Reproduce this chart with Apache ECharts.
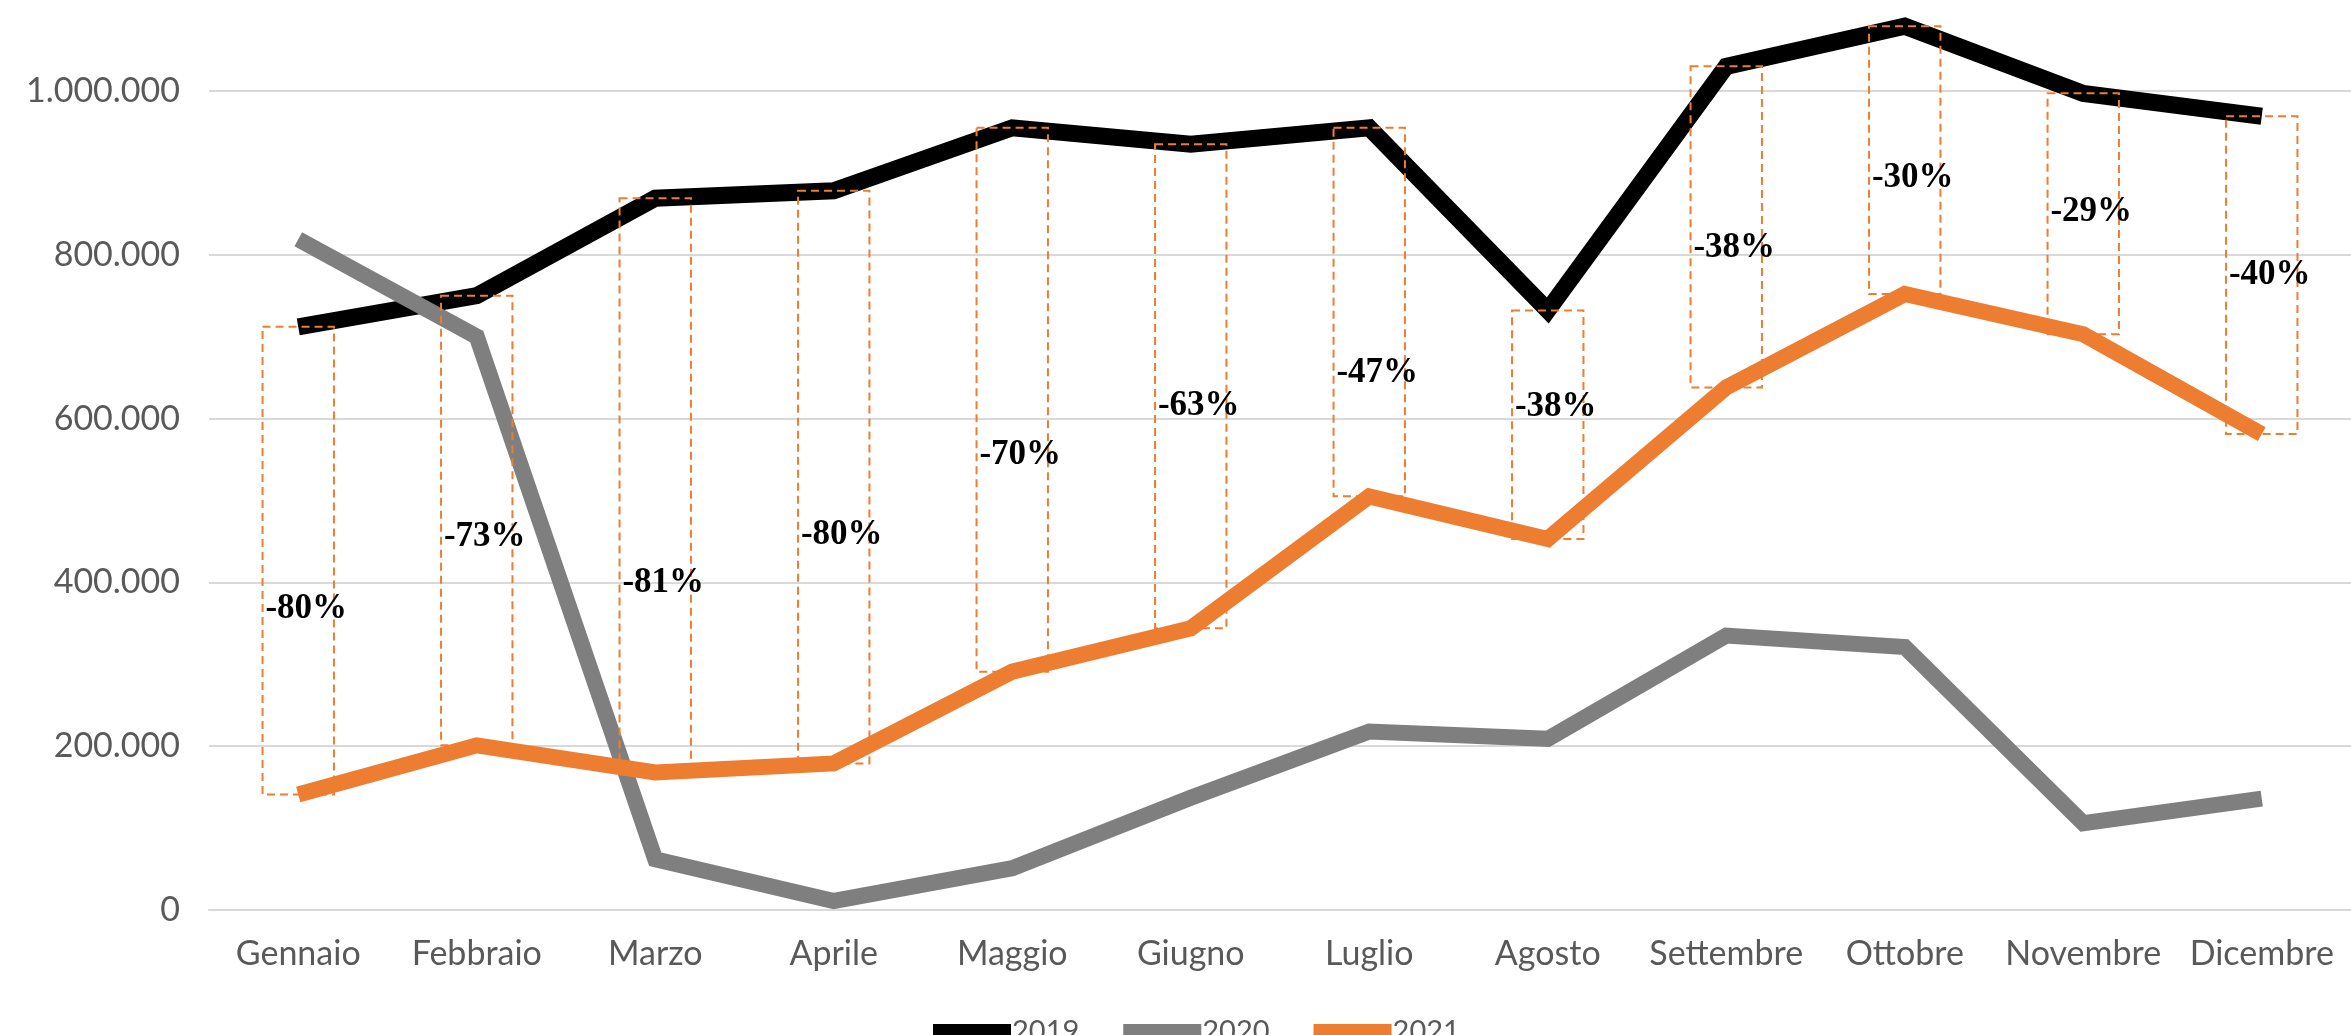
<!DOCTYPE html>
<html><head><meta charset="utf-8">
<script src="https://cdn.jsdelivr.net/npm/echarts@6/dist/echarts.min.js"></script>
<style>html,body{margin:0;padding:0;background:#fff}#c{width:2351px;height:1035px}</style>
</head><body><div id="c"></div>
<script>
const months = ['Gennaio','Febbraio','Marzo','Aprile','Maggio','Giugno','Luglio','Agosto','Settembre','Ottobre','Novembre','Dicembre'];
const s2019 = [712000, 750000, 869000, 878000, 955000, 935000, 955000, 732000, 1030000, 1079000, 997000, 969000];
const s2020 = [819000, 700000, 62000, 11000, 51000, 137000, 218000, 209000, 335000, 321000, 106000, 136000];
const s2021 = [141000, 201000, 168000, 179000, 291000, 344000, 505000, 453000, 638000, 752000, 703000, 581000];
const pctLabels = ['-80%','-73%','-81%','-80%','-70%','-63%','-47%','-38%','-38%','-30%','-29%','-40%'];
const pctLabelAt = [368000, 456000, 399000, 458000, 555000, 615000, 656000, 614000, 808000, 894000, 852000, 775000];
const seriesNames = ['2019','2020','2021'];

const fmt = v => String(v).replace(/\B(?=(\d{3})+(?!\d))/g, '.');
const axisFont = 'Lato';
const chart = echarts.init(document.getElementById('c'));
chart.setOption({
  animation: false,
  backgroundColor: '#fff',
  grid: { left: 209, right: -10, top: 9, bottom: 125 },
  legend: {
    data: seriesNames, top: 1012, left: 928, itemWidth: 78, itemHeight: 15, itemGap: 44, icon: 'rect',
    textStyle: { fontFamily: axisFont, fontSize: 29, color: '#595959', padding: [0,0,0,-4] }
  },
  xAxis: {
    type: 'category', data: months, boundaryGap: true,
    axisLine: { show: true, lineStyle: { color: '#D9D9D9', width: 2 } },
    axisTick: { show: false },
    axisLabel: { interval: 0, fontFamily: axisFont, fontSize: 34, color: '#595959', margin: 27 }
  },
  yAxis: {
    type: 'value', min: 0, max: 1100000, interval: 200000,
    axisLine: { show: false }, axisTick: { show: false },
    splitLine: { showMaxLine: false, lineStyle: { color: '#D9D9D9', width: 2 } },
    axisLabel: { showMaxLabel: false, fontFamily: axisFont, fontSize: 34, color: '#595959', margin: 29, formatter: fmt }
  },
  series: [
    { name: '2019', type: 'line', data: s2019, symbol: 'none', z: 2, color: '#000000',
      lineStyle: { width: 17, color: '#000000', join: 'miter', cap: 'butt' } },
    { name: '2020', type: 'line', data: s2020, symbol: 'none', z: 2, color: '#7F7F7F',
      lineStyle: { width: 16, color: '#7F7F7F', join: 'miter', cap: 'butt' } },
    { name: '2021', type: 'line', data: s2021, symbol: 'none', z: 2, color: '#ED7D31',
      lineStyle: { width: 16, color: '#ED7D31', join: 'miter', cap: 'butt' } },
    { name: 'bars', type: 'custom', z: 3, silent: true,
      data: months.map((m, i) => [i, s2019[i], s2021[i]]),
      encode: { x: 0, y: [1, 2] },
      renderItem: (params, api) => {
        const i = api.value(0);
        const a = api.coord([i, api.value(1)]);
        const b = api.coord([i, api.value(2)]);
        const w = api.size([1, 0])[0] * 0.4;
        return { type: 'rect', shape: { x: a[0] - w / 2, y: a[1], width: w, height: b[1] - a[1] },
          style: { fill: 'none', stroke: '#ED7D31', lineWidth: 2, lineDash: [8, 5] } };
      }
    },
    { name: 'labels', type: 'custom', z: 4, silent: true,
      data: months.map((m, i) => [i, pctLabelAt[i]]),
      encode: { x: 0, y: 1 },
      renderItem: (params, api) => {
        const i = params.dataIndex;
        const p = api.coord([api.value(0), api.value(1)]);
        return { type: 'text', x: p[0] + 8, y: p[1],
          style: { text: pctLabels[i], fontFamily: 'Liberation Serif', fontWeight: 'bold', fontSize: 35,
            fill: '#000', align: 'center', verticalAlign: 'middle' } };
      }
    }
  ]
});
</script></body></html>
